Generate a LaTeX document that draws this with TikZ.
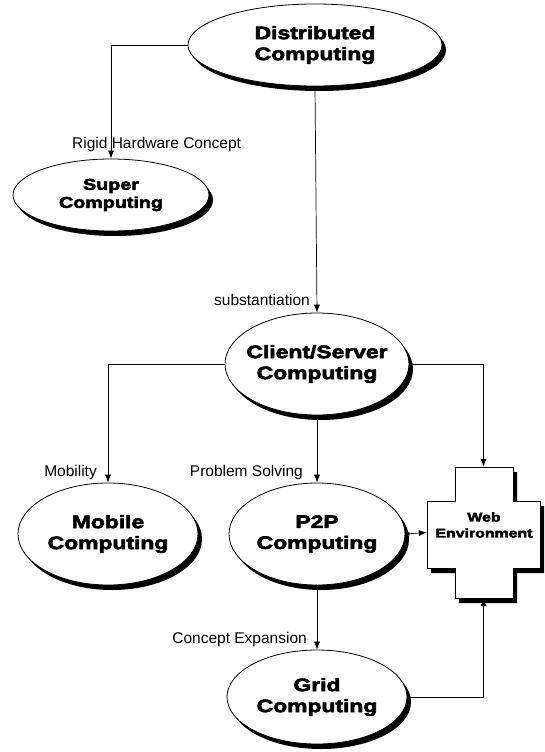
\documentclass[tikz,border=0pt]{standalone}
\usepackage{fontspec}
\setmainfont{Liberation Sans}
\newfontfamily\heavy{Liberation Sans}[UprightFont=* Bold, FakeStretch=1.27, FakeBold=3.5]
\usetikzlibrary{shapes.geometric,shadows,arrows.meta}
\begin{document}
\begin{tikzpicture}[x=1pt,y=-1pt,
  shad/.style={drop shadow={shadow xshift=4pt,shadow yshift=-5pt,fill=black,opacity=1}},
  oval/.style={ellipse, draw, line width=0.8pt, fill=white, inner sep=0pt, shad},
  otext/.style={align=center, inner sep=0pt, font=\heavy\fontsize{18}{21}\selectfont},
  lbl/.style={inner sep=0pt, font=\fontsize{15.5}{18}\selectfont},
  arr/.style={line width=0.7pt, -{Latex[length=8pt,width=6pt]}},
  arr2/.style={line width=0.7pt, {Latex[length=4pt,width=4pt]}-{Latex[length=8pt,width=6pt]}},
]
\useasboundingbox (0,0) rectangle (545,752);

% ellipses
\node[oval, minimum width=254pt, minimum height=82pt] (dist) at (315,45) {};
\node[otext] (distT) at (dist.center) {Distributed\\Computing};

\node[oval, minimum width=196pt, minimum height=72pt] (super) at (111,195) {};
\node[otext, font=\heavy\fontsize{15.5}{18}\selectfont] (superT) at (super.center) {Super\\Computing};

\node[oval, minimum width=184pt, minimum height=102pt] (cs) at (317,364) {};
\node[otext] (csT) at (cs.center) {Client/Server\\Computing};

\node[oval, minimum width=180pt, minimum height=102pt] (mob) at (108,534) {};
\node[otext] (mobT) at (mob.center) {Mobile\\Computing};

\node[oval, minimum width=176pt, minimum height=102pt] (p2p) at (317,534) {};
\node[otext] (p2pT) at (p2p.center) {P2P\\Computing};

\node[oval, minimum width=180pt, minimum height=94pt] (grid) at (317,697) {};
\node[otext] (gridT) at (grid.center) {Grid\\Computing};

% web cross
\path[draw, line width=0.8pt, fill=white, shad]
  (455,467) -- (513,467) -- (513,501) -- (540,501) -- (540,568) -- (513,568) -- (513,598)
  -- (455,598) -- (455,568) -- (427,568) -- (427,501) -- (455,501) -- cycle;
\node[draw=none, minimum width=113pt, minimum height=131pt, inner sep=0pt] (web) at (483.5,532.5) {};
\node[otext, font=\heavy\fontsize{12.5}{16}\selectfont] (webT) at (484,525) {Web\\Environment};

% connectors
\draw[arr] (dist.west) -| (super.north);
\draw[arr] (dist.south) -- (cs.north);
\draw[arr] (cs.west) -| (mob.north);
\draw[arr] (cs.south) -- (p2p.north);
\draw[arr] (cs.east) -| (web.north);
\draw[arr2] (p2p.east) -- (web.west);
\draw[arr] (p2p.south) -- (grid.north);
\draw[arr] (grid.east) -| (web.south);

% labels
\node[lbl, anchor=base west] (l1) at (72,148) {Rigid Hardware Concept};
\node[lbl, anchor=base east] (l2) at (310,305) {substantiation};
\node[lbl, anchor=base east] (l3) at (97,476) {Mobility};
\node[lbl, anchor=base east] (l4) at (303,476) {Problem Solving};
\node[lbl, anchor=base east] (l5) at (307,643) {Concept Expansion};
\end{tikzpicture}
\end{document}
